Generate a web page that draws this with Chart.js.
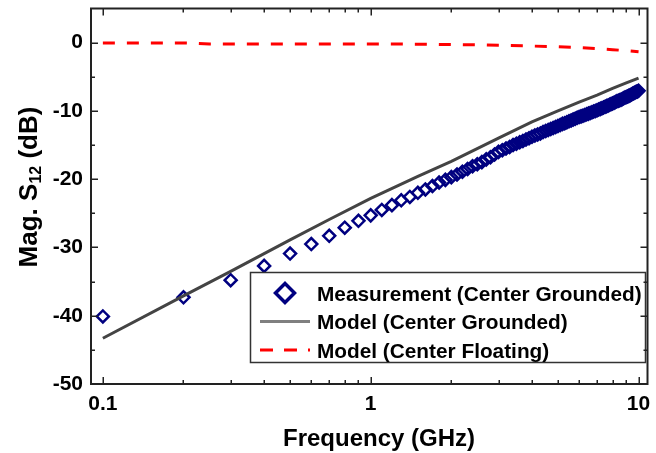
<!DOCTYPE html>
<html><head><meta charset="utf-8">
<script src="https://cdn.jsdelivr.net/npm/chart.js@4/dist/chart.umd.min.js"></script>
<style>html,body{margin:0;padding:0;background:#fff;overflow:hidden}canvas{display:block}</style>
</head><body>
<canvas id="c" width="656" height="453"></canvas>
<script>
// ---- data ----
const measFreq = [0.1,0.2,0.3,0.4,0.5,0.6,0.7,0.8,0.9,1.0,
  1.1,1.2,1.3,1.4,1.5,1.6,1.7,1.8,1.9,2.0,
  2.1,2.2,2.3,2.4,2.5,2.6,2.7,2.8,2.9,3.0,
  3.1,3.2,3.3,3.4,3.5,3.6,3.7,3.8,3.9,4.0,
  4.1,4.2,4.3,4.4,4.5,4.6,4.7,4.8,4.9,5.0,
  5.1,5.2,5.3,5.4,5.5,5.6,5.7,5.8,5.9,6.0,
  6.1,6.2,6.3,6.4,6.5,6.6,6.7,6.8,6.9,7.0,
  7.1,7.2,7.3,7.4,7.5,7.6,7.7,7.8,7.9,8.0,
  8.1,8.2,8.3,8.4,8.5,8.6,8.7,8.8,8.9,9.0,
  9.1,9.2,9.3,9.4,9.5,9.6,9.7,9.8,9.9,10.0];
const measDb = [-40.1,-37.3,-34.8,-32.7,-30.9,-29.5,-28.3,-27.1,-26.1,-25.3,
  -24.5,-23.8,-23.1,-22.6,-22.0,-21.5,-21.0,-20.5,-20.1,-19.7,
  -19.3,-18.9,-18.5,-18.1,-17.8,-17.5,-17.1,-16.8,-16.4,-16.0,
  -15.75,-15.5,-15.3,-15.0,-14.8,-14.6,-14.4,-14.2,-14.0,-13.8,
  -13.6,-13.45,-13.3,-13.1,-12.95,-12.8,-12.65,-12.5,-12.35,-12.2,
  -12.05,-11.9,-11.8,-11.65,-11.5,-11.4,-11.25,-11.15,-11.0,-10.9,
  -10.8,-10.7,-10.6,-10.5,-10.4,-10.3,-10.2,-10.1,-10.0,-9.9,
  -9.8,-9.7,-9.6,-9.5,-9.4,-9.3,-9.2,-9.1,-9.0,-8.9,
  -8.8,-8.7,-8.6,-8.5,-8.45,-8.35,-8.25,-8.15,-8.05,-7.95,
  -7.9,-7.8,-7.7,-7.6,-7.5,-7.4,-7.3,-7.2,-7.15,-7.05];
const modelFreq = [0.1,0.2,0.3,0.5,0.7,1,1.5,2,3,4,5,6,7,8,9,10];
const modelGroundedDb = [-43.3,-37.1,-33.5,-28.9,-25.9,-22.8,-19.6,-17.4,-14.0,-11.6,-10.0,-8.7,-7.7,-6.7,-5.9,-5.2];
const floatFreq = [0.1,0.15,0.2,0.22,0.25,0.3,0.5,1,1.5,2,2.5,3,4,5,6,7,8,9,10];
const floatDb = [-0.05,-0.05,-0.05,-0.08,-0.2,-0.2,-0.2,-0.2,-0.22,-0.28,-0.33,-0.4,-0.5,-0.6,-0.73,-0.88,-1.03,-1.18,-1.35];
const seriesNames = ['Measurement (Center Grounded)','Model (Center Grounded)','Model (Center Floating)'];
const xTickValues = [0.1,1,10];
const xTickLabels = ['0.1','1','10'];
const xMinorValues = [0.2,0.3,0.4,0.5,0.6,0.7,0.8,0.9,2,3,4,5,6,7,8,9];
const yTickValues = [-50,-40,-30,-20,-10,0];
const yTickLabels = ['-50','-40','-30','-20','-10','0'];
const yMinorValues = [-45,-35,-25,-15,-5];
const xTitle = 'Frequency (GHz)';
const yTitleParts = ['Mag. S','12',' (dB)'];

const FONT = '"Liberation Sans", Arial, Helvetica, sans-serif';

function pts(xs, ys){ return xs.map((x,i)=>({x:x,y:ys[i]})); }

function diamond(ctx, x, y, r){
  ctx.beginPath();
  ctx.moveTo(x - r, y); ctx.lineTo(x, y + r); ctx.lineTo(x + r, y); ctx.lineTo(x, y - r);
  ctx.closePath();
}

const decorPlugin = {
  id: 'decor',
  afterDatasetsDraw(chart){
    const ctx = chart.ctx;
    // legend
    ctx.save();
    const lx = 250, ly = 272, lw = 396, lh = 91;
    ctx.fillStyle = '#fff';
    ctx.fillRect(lx, ly, lw, lh);
    ctx.strokeStyle = '#333';
    ctx.lineWidth = 1.5;
    ctx.strokeRect(lx + 0.5, ly + 0.5, lw - 1, lh - 1);
    const rows = [293, 321.5, 350];
    ctx.strokeStyle = '#000080'; ctx.lineWidth = 3.5;
    diamond(ctx, 285, rows[0], 9.5); ctx.stroke();
    ctx.strokeStyle = '#808080'; ctx.lineWidth = 3;
    ctx.beginPath(); ctx.moveTo(260, rows[1]); ctx.lineTo(310, rows[1]); ctx.stroke();
    ctx.strokeStyle = '#ff0000'; ctx.lineWidth = 3; ctx.setLineDash([13, 11]);
    ctx.beginPath(); ctx.moveTo(260, rows[2]); ctx.lineTo(310, rows[2]); ctx.stroke();
    ctx.setLineDash([]);
    ctx.fillStyle = '#000';
    ctx.font = 'bold 20.8px ' + FONT;
    ctx.textBaseline = 'alphabetic';
    ctx.textAlign = 'left';
    const bl = [300.5, 329, 357.5];
    for (let i = 0; i < 3; i++) ctx.fillText(seriesNames[i], 317, bl[i]);
    ctx.restore();
  },
  afterDraw(chart){
    const ctx = chart.ctx, a = chart.chartArea;
    const xs = chart.scales.x, ys = chart.scales.y;
    ctx.save();
    ctx.strokeStyle = '#222';
    ctx.lineWidth = 2;
    ctx.strokeRect(a.left, a.top, a.right - a.left, a.bottom - a.top);
    ctx.lineWidth = 1.5;
    ctx.beginPath();
    const tickX = (v, len) => {
      const p = Math.round(xs.getPixelForValue(v)) + 0.25;
      ctx.moveTo(p, a.bottom); ctx.lineTo(p, a.bottom - len);
      ctx.moveTo(p, a.top); ctx.lineTo(p, a.top + len);
    };
    const tickY = (v, len) => {
      const p = Math.round(ys.getPixelForValue(v)) + 0.25;
      ctx.moveTo(a.left, p); ctx.lineTo(a.left + len, p);
      ctx.moveTo(a.right, p); ctx.lineTo(a.right - len, p);
    };
    xTickValues.forEach(v => tickX(v, 7));
    xMinorValues.forEach(v => tickX(v, 4));
    yTickValues.forEach(v => tickY(v, 7));
    yMinorValues.forEach(v => tickY(v, 4));
    ctx.stroke();

    // axis titles
    ctx.fillStyle = '#000';
    ctx.textAlign = 'center';
    ctx.textBaseline = 'alphabetic';
    ctx.font = 'bold 24px ' + FONT;
    ctx.fillText(xTitle, 379, 446);

    ctx.translate(37, 187);
    ctx.rotate(-Math.PI / 2);
    ctx.textAlign = 'left';
    const big = 'bold 26px ' + FONT, small = 'bold 16px ' + FONT;
    ctx.font = big; const w0 = ctx.measureText(yTitleParts[0]).width;
    ctx.font = small; const w1 = ctx.measureText(yTitleParts[1]).width;
    ctx.font = big; const w2 = ctx.measureText(yTitleParts[2]).width;
    let x0 = -(w0 + w1 + w2) / 2;
    ctx.font = big; ctx.fillText(yTitleParts[0], x0, 0); x0 += w0;
    ctx.font = small; ctx.fillText(yTitleParts[1], x0, 3.5); x0 += w1;
    ctx.font = big; ctx.fillText(yTitleParts[2], x0, 0);
    ctx.restore();
  }
};

new Chart(document.getElementById('c').getContext('2d'), {
  type: 'scatter',
  data: {
    datasets: [
      {
        label: seriesNames[0],
        data: pts(measFreq, measDb),
        showLine: false,
        pointStyle: 'rectRot',
        pointRadius: 6,
        pointBorderWidth: 2.5,
        borderColor: '#000080',
        backgroundColor: 'rgba(255,255,255,0)',
        order: 3
      },
      {
        label: seriesNames[1],
        data: pts(modelFreq, modelGroundedDb),
        showLine: true,
        borderColor: '#444444',
        borderWidth: 3,
        pointRadius: 0,
        tension: 0,
        fill: false,
        order: 2
      },
      {
        label: seriesNames[2],
        data: pts(floatFreq, floatDb),
        showLine: true,
        borderColor: '#ff0000',
        borderWidth: 3,
        borderDash: [12, 12],
        pointRadius: 0,
        tension: 0,
        fill: false,
        order: 1
      }
    ]
  },
  options: {
    responsive: false,
    animation: false,
    devicePixelRatio: 1,
    layout: { padding: { left: 0, right: 5, top: 5, bottom: 0 } },
    plugins: { legend: { display: false }, tooltip: { enabled: false } },
    scales: {
      x: {
        type: 'logarithmic',
        min: 0.0903, max: 10.8,
        grid: { display: false, drawTicks: false },
        border: { display: false },
        afterBuildTicks: s => { s.ticks = xTickValues.map(v => ({ value: v })); },
        afterFit: s => { s.height = 69; s.paddingLeft = 0; s.paddingRight = 0; },
        ticks: {
          autoSkip: false, maxRotation: 0, minRotation: 0,
          padding: 8,
          color: '#000',
          font: { family: FONT, size: 21, weight: 'bold' },
          callback: (v, i) => xTickLabels[i]
        }
      },
      y: {
        type: 'linear',
        min: -50, max: 5,
        grid: { display: false, drawTicks: false },
        border: { display: false },
        afterBuildTicks: s => { s.ticks = yTickValues.map(v => ({ value: v })); },
        afterFit: s => { s.width = 91; s.paddingTop = 0; s.paddingBottom = 0; },
        ticks: {
          autoSkip: false,
          padding: 8,
          color: '#000',
          font: { family: FONT, size: 21, weight: 'bold' },
          callback: (v, i) => yTickLabels[i]
        }
      }
    }
  },
  plugins: [decorPlugin]
});
</script>
</body></html>
